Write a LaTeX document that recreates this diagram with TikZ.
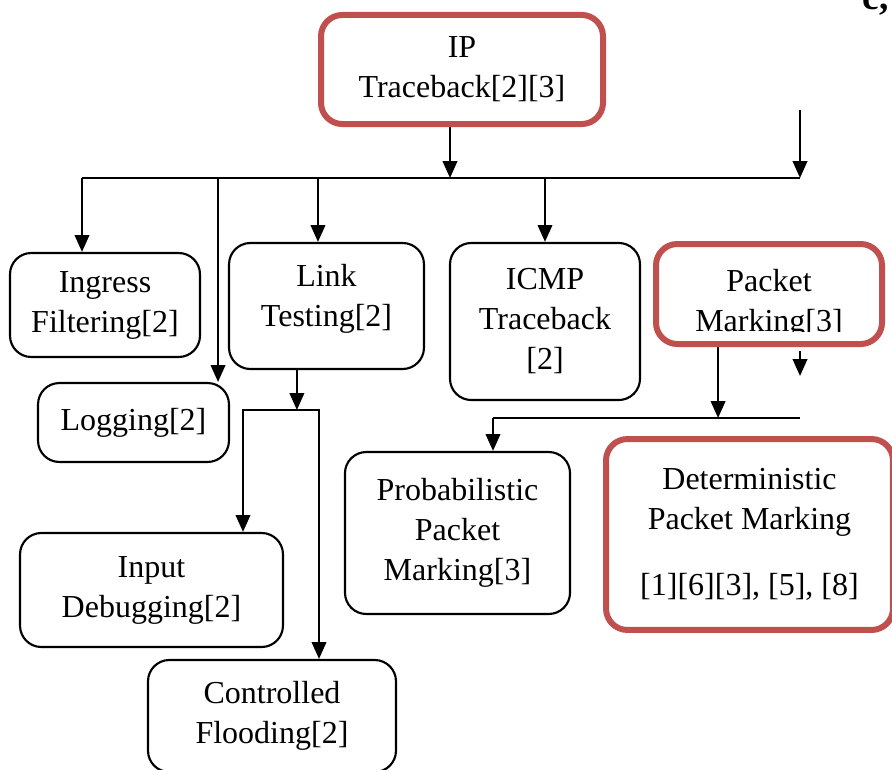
\documentclass[tikz,border=0pt]{standalone}
\usepackage{fontspec}
\setmainfont{Liberation Serif}
\usetikzlibrary{arrows.meta}
\definecolor{boxred}{RGB}{192,80,77}

\tikzset{
  box/.style={draw, rounded corners=8pt, line width=0.8pt, align=center,
    inner sep=2pt, font=\fontsize{12}{15}\selectfont},
  redbox/.style={box, draw=boxred, line width=2.25pt},
  arr/.style={-{Triangle[length=6.3pt,width=5.4pt]}, line width=0.85pt},
  twoarr/.style={{Triangle[length=6.3pt,width=5.4pt]}-{Triangle[length=6.3pt,width=5.4pt]}, line width=0.85pt},
  wire/.style={line width=0.85pt},
}

\begin{document}
\begin{tikzpicture}[x=0.375pt, y=-0.375pt]

    \useasboundingbox (0,0) rectangle (892,770);

    \node[anchor=base west, inner sep=0pt, font=\fontsize{14}{14}\selectfont\bfseries] (corner) at (862,10) {c,};

    \node[redbox, minimum width=105.75pt, minimum height=40.9pt] (ip) at (462,69.5) {IP\\Traceback[2][3]};

    \node[box, minimum width=71.25pt, minimum height=39pt] (ingress) at (105,305) {Ingress\\Filtering[2]};
    \node[box, minimum width=73.1pt, minimum height=47.25pt, text depth=8pt] (link) at (326.5,306) {Link\\Testing[2]};
    \node[box, minimum width=71.6pt, minimum height=29.6pt] (logging) at (133.5,422.5) {Logging[2]};
    \node[box, minimum width=71.25pt, minimum height=58.9pt] (icmp) at (545,321.5) {ICMP\\Traceback\\{[2]}};
    \node[redbox, minimum width=84.75pt, minimum height=37.5pt] (pm) at (769,294) {};
    \begin{scope}
        \clip (656,244) rectangle (882,331);
        \node[box, draw=none] (pmtext) at (769,304) {Packet\\Marking[3]};
    \end{scope}

    \node[box, minimum width=98.6pt, minimum height=42.75pt] (input) at (151.5,590) {Input\\Debugging[2]};
    \node[box, minimum width=93pt, minimum height=42pt] (flood) at (272,716) {Controlled\\Flooding[2]};
    \node[box, minimum width=84.4pt, minimum height=60.75pt] (probab) at (457.5,533) {Probabilistic\\Packet\\Marking[3]};
    \node[redbox, minimum width=107.6pt, minimum height=71.6pt] (dpm) at (749.5,534.5) {Deterministic\\Packet Marking\\[10pt]{}[1][6][3], [5], [8]};

    % first level bus
    \coordinate (busL) at (82,178);
    \coordinate (busR) at (800,178);
    \coordinate (stubR) at (800,110);
    \draw[wire] (busL) -- (busR);
    \draw[arr] ([xshift=-4.5pt]ip.south) -- ([xshift=-4.5pt]ip.south |- busL);
    \draw[arr] (stubR) -- (busR);
    \draw[arr] (busL) -- (busL |- ingress.north);
    \draw[arr] ([xshift=-4.5pt]logging.north east |- busL) -- ([xshift=-4.5pt]logging.north east);
    \draw[arr] ([xshift=-3.2pt]link.north |- busL) -- ([xshift=-3.2pt]link.north);
    \draw[arr] (icmp.north |- busL) -- (icmp.north);

    % link testing split
    \coordinate (splitL) at (243,410);
    \coordinate (splitR) at (319,410);
    \draw[arr] ([xshift=-11.1pt]link.south) -- ([xshift=-11.1pt]link.south |- splitL);
    \draw[twoarr] (splitL |- input.north) -- (splitL) -- (splitR) -- (splitR |- flood.north);

    % packet marking bus
    \coordinate (bus2L) at (493,418);
    \coordinate (bus2R) at (800,418);
    \draw[wire] (bus2L) -- (bus2R);
    \draw[arr] ([xshift=-19.1pt]pm.south) -- ([xshift=-19.1pt]pm.south |- bus2L);
    \draw[arr] ([yshift=-1.5pt]pm.south -| bus2R) -- +(0,25);
    \draw[arr] (bus2L) -- (bus2L |- probab.north);

\end{tikzpicture}
\end{document}
